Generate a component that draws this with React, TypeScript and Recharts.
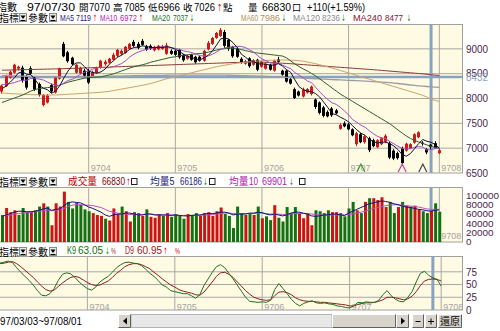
import React from 'react';
import { ComposedChart, Bar, Line, XAxis, YAxis, ReferenceLine, ReferenceDot, Cell } from 'recharts';

// trading days 97/03/03 ~ 97/08/01
const MAR = [3, 4, 5, 6, 7, 10, 11, 12, 13, 14, 17, 18, 19, 20, 21, 24, 25, 26, 27, 28, 31];
const APR = [1, 2, 3, 7, 8, 9, 10, 11, 14, 15, 16, 17, 18, 21, 22, 23, 24, 25, 28, 29, 30];
const MAY = [2, 5, 6, 7, 8, 9, 12, 13, 14, 15, 16, 19, 20, 21, 22, 23, 26, 27, 28, 29, 30];
const JUN = [2, 3, 4, 5, 6, 9, 10, 11, 12, 13, 16, 17, 18, 19, 20, 23, 24, 25, 26, 27, 30];
const JUL = [1, 2, 3, 4, 7, 8, 9, 10, 11, 14, 15, 16, 17, 18, 21, 22, 23, 24, 25, 29, 30, 31];
const AUG = [1];

const OPEN = [8140, 8250, 8420, 8520, 8600, 8620, 8450, 8610, 8420, 8290,
  7870, 7920, 8270, 8120, 8400, 9100, 8930, 8820, 8520, 8510,
  8560, 8560, 8450, 8520, 8620, 8690, 8720, 8780, 8860, 8900,
  8920, 9000, 9140, 9100, 9160, 9050, 9060, 8970, 8990, 9000,
  8900, 8960, 8960, 8980, 8880, 8800, 8880, 8840, 8840, 8760,
  8990, 9100, 9220, 9260, 9340, 9180, 9040, 9000, 8800, 8700,
  8810, 8680, 8780, 8640, 8600, 8680, 8560, 8790, 8560, 8560,
  8390, 8190, 8140, 8040, 8120, 8090, 7980, 7920, 7820, 7730,
  7800, 7760, 7390, 7500, 7480, 7380, 7080, 7280, 7120, 7200,
  7160, 7020, 7080, 7130, 7100, 6950, 6900, 7000, 6950, 7000,
  7110, 7220, 7110, 6980, 7070, 7100, 6900];
const HIGH = [8280, 8480, 8560, 8700, 8660, 8660, 8480, 8650, 8450, 8320,
  8090, 8090, 8300, 8450, 8620, 9140, 8960, 8840, 8700, 8640,
  8600, 8600, 8560, 8640, 8780, 8780, 8820, 8920, 9000, 8990,
  9060, 9120, 9180, 9140, 9200, 9080, 9090, 9060, 9080, 9080,
  9120, 8990, 8980, 9000, 8900, 8880, 8900, 8860, 8860, 8980,
  9160, 9240, 9340, 9420, 9380, 9200, 9060, 9030, 8830, 8780,
  8830, 8790, 8800, 8760, 8720, 8700, 8780, 8840, 8580, 8580,
  8420, 8220, 8160, 8220, 8210, 8260, 8000, 7940, 7850, 7760,
  7830, 7790, 7500, 7540, 7510, 7400, 7330, 7310, 7260, 7230,
  7190, 7180, 7220, 7280, 7140, 6980, 6930, 7030, 7110, 7100,
  7300, 7340, 7140, 7000, 7085, 7140, 6990];
const LOW = [8100, 8230, 8400, 8500, 8560, 8320, 8180, 8480, 8150, 8040,
  7840, 7900, 8110, 8100, 8380, 8830, 8720, 8670, 8500, 8480,
  8430, 8290, 8420, 8500, 8600, 8660, 8700, 8760, 8830, 8870,
  8900, 8980, 9040, 8990, 9060, 8960, 8980, 8950, 8970, 8980,
  8880, 8880, 8860, 8800, 8740, 8780, 8760, 8700, 8740, 8740,
  8970, 9080, 9200, 9240, 9020, 8960, 8820, 8820, 8700, 8680,
  8620, 8660, 8550, 8620, 8580, 8560, 8540, 8720, 8460, 8320,
  8280, 7990, 8040, 8020, 8100, 8060, 7790, 7680, 7620, 7620,
  7630, 7680, 7370, 7420, 7360, 7240, 7040, 7100, 7090, 6920,
  7020, 7000, 7060, 7100, 6780, 6760, 6770, 6650, 6930, 6980,
  7090, 7200, 7050, 6880, 6966, 6990, 6880];
const CLOSE = [8260, 8460, 8540, 8680, 8640, 8360, 8220, 8500, 8180, 8070,
  8070, 8060, 8140, 8420, 8610, 8850, 8750, 8690, 8680, 8620,
  8460, 8320, 8530, 8620, 8760, 8740, 8800, 8880, 8980, 8960,
  9040, 9100, 9060, 9020, 9080, 8980, 9000, 9040, 9060, 9050,
  9070, 8900, 8880, 8830, 8770, 8860, 8780, 8730, 8760, 8960,
  9120, 9220, 9320, 9380, 9060, 9000, 8850, 8840, 8720, 8750,
  8650, 8770, 8580, 8740, 8700, 8580, 8760, 8740, 8480, 8340,
  8300, 8010, 8060, 8180, 8190, 8240, 7830, 7710, 7650, 7640,
  7660, 7700, 7470, 7440, 7380, 7260, 7300, 7120, 7240, 6960,
  7040, 7160, 7200, 7250, 6810, 6790, 6800, 6700, 7090, 7080,
  7280, 7320, 7100, 6916, 7026, 7000, 6960];
const PREV_CLOSE = 8300;

const MA5 = [8200, 8250, 8330, 8418, 8516, 8536, 8488, 8480, 8380, 8266,
  8208, 8176, 8104, 8152, 8260, 8416, 8554, 8664, 8716, 8718,
  8640, 8554, 8522, 8510, 8538, 8594, 8690, 8760, 8832, 8872,
  8932, 8992, 9028, 9036, 9060, 9048, 9028, 9024, 9032, 9026,
  9044, 9024, 8992, 8946, 8890, 8848, 8824, 8794, 8780, 8818,
  8870, 8958, 9076, 9200, 9220, 9196, 9122, 9026, 8894, 8832,
  8762, 8746, 8694, 8698, 8688, 8674, 8672, 8704, 8652, 8580,
  8524, 8374, 8238, 8178, 8148, 8136, 8100, 8030, 7924, 7814,
  7698, 7672, 7624, 7582, 7530, 7450, 7370, 7300, 7260, 7176,
  7132, 7104, 7120, 7122, 7092, 7042, 6970, 6870, 6838, 6892,
  6990, 7094, 7174, 7139, 7119, 7072, 7000];
const MA10 = [8280, 8290, 8300, 8320, 8350, 8368, 8369, 8405, 8400, 8391,
  8372, 8332, 8292, 8266, 8263, 8312, 8365, 8384, 8434, 8489,
  8528, 8554, 8593, 8613, 8628, 8617, 8622, 8641, 8671, 8705,
  8763, 8841, 8894, 8934, 8966, 8990, 9010, 9026, 9034, 9043,
  9046, 9026, 9008, 8989, 8958, 8946, 8924, 8893, 8863, 8854,
  8859, 8891, 8935, 8990, 9019, 9033, 9040, 9051, 9047, 9026,
  8979, 8934, 8860, 8796, 8760, 8718, 8709, 8699, 8675, 8634,
  8599, 8523, 8471, 8415, 8354, 8320, 8227, 8132, 8052, 7977,
  7913, 7882, 7823, 7749, 7672, 7574, 7521, 7462, 7421, 7353,
  7291, 7237, 7210, 7191, 7134, 7087, 7037, 6995, 6980, 6992,
  7016, 7032, 7022, 6960, 6972, 6990, 7000];
const MA20 = [7920, 7950, 7980, 8010, 8040, 8070, 8110, 8150, 8180, 8200,
  8210, 8220, 8225, 8240, 8270, 8300, 8330, 8350, 8370, 8390,
  8410, 8420, 8425, 8430, 8435, 8455, 8475, 8495, 8525, 8555,
  8585, 8615, 8640, 8660, 8680, 8700, 8730, 8750, 8770, 8790,
  8810, 8830, 8840, 8860, 8870, 8880, 8890, 8900, 8905, 8915,
  8935, 8955, 8975, 8995, 9005, 9015, 9015, 9005, 8985, 8965,
  8945, 8925, 8915, 8905, 8895, 8885, 8875, 8865, 8855, 8815,
  8755, 8695, 8645, 8595, 8555, 8505, 8455, 8395, 8335, 8275,
  8210, 8150, 8090, 8040, 7990, 7940, 7890, 7840, 7790, 7740,
  7690, 7640, 7590, 7540, 7490, 7430, 7365, 7305, 7245, 7195,
  7155, 7125, 7095, 7065, 7037, 7015, 6995];
const MA60 = [8110, 8105, 8100, 8095, 8090, 8085, 8080, 8078, 8075, 8073,
  8072, 8071, 8070, 8072, 8075, 8080, 8085, 8090, 8095, 8100,
  8105, 8110, 8115, 8120, 8125, 8135, 8145, 8160, 8175, 8190,
  8205, 8220, 8235, 8250, 8265, 8282, 8302, 8324, 8350, 8375,
  8400, 8420, 8440, 8460, 8480, 8500, 8520, 8540, 8560, 8580,
  8600, 8620, 8640, 8655, 8670, 8685, 8700, 8710, 8720, 8730,
  8740, 8748, 8755, 8760, 8765, 8770, 8772, 8775, 8775, 8775,
  8772, 8768, 8762, 8750, 8735, 8718, 8700, 8680, 8658, 8635,
  8612, 8588, 8564, 8540, 8515, 8490, 8465, 8440, 8415, 8390,
  8365, 8340, 8315, 8290, 8265, 8240, 8215, 8190, 8165, 8140,
  8115, 8090, 8062, 8030, 7986, 7962, 7940];
const MA120 = [8462, 8460, 8458, 8455, 8452, 8450, 8448, 8446, 8444, 8442,
  8440, 8438, 8436, 8434, 8433, 8432, 8432, 8433, 8434, 8435,
  8436, 8437, 8438, 8440, 8442, 8444, 8446, 8448, 8450, 8452,
  8454, 8456, 8458, 8460, 8462, 8463, 8464, 8465, 8466, 8467,
  8468, 8469, 8470, 8470, 8471, 8471, 8472, 8472, 8472, 8472,
  8472, 8472, 8471, 8470, 8469, 8468, 8466, 8464, 8462, 8460,
  8457, 8454, 8451, 8448, 8445, 8442, 8438, 8434, 8430, 8426,
  8422, 8418, 8414, 8410, 8406, 8402, 8398, 8394, 8390, 8386,
  8382, 8378, 8374, 8370, 8366, 8362, 8358, 8354, 8350, 8345,
  8340, 8335, 8330, 8325, 8318, 8310, 8302, 8292, 8282, 8272,
  8264, 8256, 8249, 8242, 8236, 8230, 8224];
const MA240 = [8570, 8572, 8574, 8576, 8578, 8580, 8582, 8584, 8586, 8588,
  8590, 8592, 8594, 8596, 8598, 8600, 8603, 8606, 8609, 8612,
  8615, 8618, 8621, 8624, 8627, 8630, 8633, 8636, 8639, 8642,
  8645, 8648, 8651, 8654, 8657, 8660, 8663, 8666, 8669, 8672,
  8675, 8678, 8681, 8684, 8687, 8690, 8693, 8696, 8699, 8702,
  8705, 8708, 8711, 8714, 8717, 8720, 8723, 8726, 8729, 8732,
  8735, 8736, 8735, 8732, 8728, 8724, 8720, 8715, 8710, 8705,
  8700, 8694, 8688, 8682, 8676, 8670, 8664, 8658, 8652, 8646,
  8640, 8634, 8628, 8622, 8616, 8610, 8604, 8598, 8592, 8586,
  8580, 8573, 8566, 8559, 8552, 8545, 8538, 8531, 8524, 8517,
  8510, 8503, 8496, 8487, 8477, 8470, 8463];

const VOL = [58000, 73000, 64000, 68000, 58000, 73000, 64000, 64000, 68000, 76000,
  83000, 76000, 36000, 83000, 76000, 108000, 86000, 72000, 84000, 80000,
  70000, 66000, 62000, 58000, 56000, 50000, 46000, 72000, 60000, 76000,
  66000, 44000, 64000, 62000, 56000, 70000, 54000, 52000, 60000, 56000,
  62000, 54000, 60000, 56000, 50000, 60000, 58000, 62000, 56000, 62000,
  64000, 56000, 66000, 74000, 60000, 56000, 30000, 76000, 62000, 58000,
  60000, 58000, 76000, 51000, 55000, 47000, 79000, 52000, 44000, 75000,
  62000, 75000, 62000, 51000, 62000, 36000, 68000, 66000, 62000, 68000,
  64000, 64000, 62000, 55000, 72000, 86000, 68000, 62000, 86000, 94000,
  94000, 90000, 96000, 75000, 86000, 62000, 75000, 86000, 78000, 76000,
  78000, 70000, 66000, 62000, 66830, 83000, 65000];
const VMA5 = [55000, 58000, 61000, 64000, 66000, 66000, 65000, 65000, 66000, 68000,
  71000, 73000, 68000, 70000, 71000, 78000, 84000, 86000, 85000, 84000,
  80000, 75000, 72000, 68000, 64000, 58000, 55000, 58000, 60000, 60000,
  62000, 62000, 60000, 58000, 58000, 60000, 60000, 58000, 58000, 58000,
  58000, 57000, 58000, 57000, 56000, 56000, 57000, 58000, 58000, 60000,
  61000, 61000, 62000, 64000, 64000, 62000, 58000, 60000, 60000, 60000,
  62000, 62000, 64000, 63000, 60000, 58000, 60000, 58000, 56000, 58000,
  62000, 64000, 64000, 62000, 60000, 56000, 55000, 56000, 58000, 58000,
  60000, 60000, 58000, 57000, 62000, 66000, 70000, 74000, 78000, 82000,
  84000, 86000, 88000, 87000, 85000, 82000, 80000, 77000, 75000, 74000,
  72000, 70000, 69000, 67000, 66186, 68000, 69000];
const VMA10 = [56000, 57000, 58000, 60000, 61000, 62000, 63000, 64000, 65000, 66000,
  67000, 68000, 67000, 68000, 70000, 72000, 76000, 79000, 80000, 80000,
  79000, 79000, 78000, 76000, 74000, 70000, 66000, 64000, 62000, 61000,
  60000, 59000, 59000, 59000, 59000, 60000, 60000, 59000, 58000, 58000,
  58000, 58000, 58000, 57000, 57000, 57000, 57000, 57000, 57000, 58000,
  58000, 59000, 60000, 61000, 62000, 62000, 61000, 61000, 61000, 61000,
  61000, 61000, 62000, 62000, 61000, 60000, 60000, 60000, 59000, 59000,
  60000, 61000, 61000, 61000, 61000, 60000, 59000, 58000, 58000, 58000,
  58000, 58000, 58000, 58000, 59000, 60000, 62000, 64000, 66000, 69000,
  72000, 74000, 76000, 78000, 79000, 80000, 80000, 79000, 78000, 77000,
  76000, 75000, 73000, 71000, 69901, 70000, 70000];

const K9 = [92, 94, 96, 93, 83, 74, 66, 58, 49, 38,
  29, 28, 32, 42, 58, 70, 73, 71, 64, 55,
  48, 42, 39, 45, 55, 61, 66, 74, 83, 89,
  93, 94, 92, 91, 87, 80, 72, 66, 58, 49,
  45, 38, 36, 34, 32, 32, 28, 23, 30, 48,
  61, 74, 85, 89, 83, 72, 61, 49, 37, 25,
  17, 16, 15, 16, 15, 19, 40, 52, 42, 32,
  21, 13, 8, 13, 16, 18, 14, 13, 14, 12,
  11, 8, 7, 5, 4, 8, 15, 14, 16, 15,
  15, 19, 30, 38, 28, 21, 17, 16, 25, 36,
  55, 72, 76, 68, 63.05, 60, 47];
const D9 = [91, 92, 94, 95, 91, 85, 78, 71, 64, 55,
  47, 40, 37, 39, 46, 53, 59, 64, 66, 64,
  59, 54, 50, 48, 49, 53, 57, 64, 72, 78,
  85, 89, 91, 91, 89, 85, 81, 74, 68, 61,
  55, 49, 45, 40, 37, 35, 33, 30, 29, 35,
  45, 55, 66, 73, 74, 70, 64, 55, 47, 38,
  31, 25, 22, 20, 19, 20, 28, 35, 36, 34,
  30, 24, 20, 18, 17, 17, 16, 15, 15, 14,
  13, 12, 11, 10, 8, 8, 11, 13, 14, 14,
  15, 17, 20, 25, 25, 24, 22, 20, 22, 27,
  36, 48, 57, 60, 60.95, 60, 57];

const PRICE_TICKS = [6500, 7000, 7500, 8000, 8500, 9000, 8432];
const PRICE_GRID = [7000, 7500, 8000, 8500, 9000];
const VOL_TICKS = [0, 20000, 40000, 60000, 80000, 100000];
const KD_TICKS = [0, 25, 50, 75];
const KD_GRID = [25, 50, 75];
const MONTH_START: [string, string][] = [['97/04/01', '9704'], ['97/05/02', '9705'], ['97/06/02', '9706'], ['97/07/01', '9707'], ['97/08/01', '9708']];
const CURSOR_DAY = '97/07/30';
const CURSOR_PRICE = 8432;
const SIGNALS: [string, string][] = [['97/07/04', '#3C9A3C'], ['97/07/18', '#C040A8'], ['97/07/25', '#404058']];

const pad2 = (n: number) => (n < 10 ? '0' + n : String(n));
const MONTHS: [number, number[]][] = [[3, MAR], [4, APR], [5, MAY], [6, JUN], [7, JUL], [8, AUG]];
const DATES = MONTHS.flatMap(([m, ds]) => ds.map((d) => `97/${pad2(m)}/${pad2(d)}`));

const rows = DATES.map((d, i) => ({
  d,
  hl: [LOW[i], HIGH[i]],
  o: OPEN[i], h: HIGH[i], l: LOW[i], c: CLOSE[i],
  ma5: MA5[i], ma10: MA10[i], ma20: MA20[i], ma60: MA60[i], ma120: MA120[i], ma240: MA240[i],
  vol: VOL[i], vma5: VMA5[i], vma10: VMA10[i], k: K9[i], dd: D9[i],
  up: CLOSE[i] >= (i === 0 ? PREV_CLOSE : CLOSE[i - 1]),
}));
const DATA: any[] = [...rows, ...['p1', 'p2', 'p3', 'p4', 'p5'].map((d) => ({ d }))];

const CJK = '"Noto Sans CJK TC", "Noto Sans CJK SC", sans-serif';
const LAT = '"Liberation Sans", Arial, sans-serif';
const ARR = '"DejaVu Sans", sans-serif';
const CREAM = '#FFFAE2';
const FRAME = '#A0A0A0';
const GRID = '#A8A8A8';
const CURSOR = '#88A3C2';
const AXIS_TXT = '#4A1E4A';
const RED = '#E00000';
const GREEN = '#008000';

const Candle = (props: any) => {
  const { x, y, width, height, payload } = props;
  if (!payload || payload.h == null) return null;
  const { o, h, l, c } = payload;
  const top = Math.min(y, y + height);
  const span = Math.abs(height);
  const k = span / (h - l || 1);
  const py = (v: number) => top + (h - v) * k;
  const cx = Math.floor(x + width / 2);
  const color = c >= o ? '#D01818' : '#000000';
  const bTop = py(Math.max(o, c));
  const bBot = py(Math.min(o, c));
  return (
    <g>
      <line x1={cx + 0.5} x2={cx + 0.5} y1={top} y2={top + span} stroke={color} />
      <rect x={cx - 1} y={bTop} width={3} height={Math.max(1, bBot - bTop)} fill={color} />
    </g>
  );
};

const axisTick = (size: number) => (p: any) => {
  const v = p.payload.value as number;
  const s = String(v);
  return (
    <text x={466} y={p.y} dy={size * 0.36} fontSize={size} fontFamily={LAT}
      fill={v === CURSOR_PRICE ? '#8EA4BE' : AXIS_TXT} textLength={s.length * 5.5} lengthAdjust="spacingAndGlyphs">{s}</text>
  );
};

const monthLabel = (t: string, padBottom: number) => (p: any) => {
  const vb = p.viewBox || {};
  return (
    <text x={vb.x + 2} y={vb.y + vb.height - padBottom} fontSize={9.5} fontFamily={LAT} fill="#A4A4A4"
      textLength={20} lengthAdjust="spacingAndGlyphs">{t}</text>
  );
};

const marker = (color: string) => (p: any) => (
  <polyline points={`${p.cx - 4},${p.cy + 2} ${p.cx},${p.cy - 6} ${p.cx + 4},${p.cy + 2}`} fill="none" stroke={color} strokeWidth={1.2} />
);

function T({ x, y, w, c = '#000', s = 10.5, f = LAT, children }: any) {
  return (
    <text x={x} y={y} fill={c} fontSize={s} fontFamily={f} textLength={w} lengthAdjust={w ? 'spacingAndGlyphs' : undefined}>{children}</text>
  );
}

function DropBtn({ x, y }: { x: number; y: number }) {
  return (
    <g>
      <rect x={x + 0.5} y={y + 0.5} width={7} height={8} fill="#ECE9E0" stroke="#8A8A8A" />
      <path d={`M${x + 1.5} ${y + 2.5}h5l-2.5 3.5z`} fill="#000" />
      <line x1={x + 1.5} x2={x + 6.5} y1={y + 7.5} y2={y + 7.5} stroke="#000" />
    </g>
  );
}

function Btn({ x, y, w, h, children }: any) {
  return (
    <g>
      <rect x={x} y={y} width={w} height={h} fill="#D8D4CC" />
      <path d={`M${x + 0.5} ${y + h - 0.5}V${y + 0.5}H${x + w - 0.5}`} stroke="#FFFFFF" fill="none" />
      <path d={`M${x + 0.5} ${y + h - 0.5}H${x + w - 0.5}V${y + 0.5}`} stroke="#606060" fill="none" />
      {children}
    </g>
  );
}

function PanelHead({ y }: { y: number }) {
  return (
    <g>
      <T x={-1} y={y + 8.5} f={CJK} s={10}>指標</T>
      <DropBtn x={19} y={y} />
      <T x={28} y={y + 8.5} f={CJK} s={10}>參數</T>
      <DropBtn x={49} y={y} />
    </g>
  );
}

function Overlay() {
  const r1 = 10.5;
  const r2 = 21;
  const vh = 184.5;
  const kh = 254;
  return (
    <svg width={500} height={331} style={{ position: 'absolute', left: 0, top: 0, pointerEvents: 'none' }}>
      {/* quote line */}
      <T x={-3} y={r1 + 0.5} f={CJK} s={10}>指數</T>
      <T x={27} y={r1} w={48}>97/07/30</T>
      <T x={79} y={r1 + 0.5} f={CJK} s={9.5}>開</T>
      <T x={89} y={r1} w={21}>7070</T>
      <T x={113} y={r1 + 0.5} f={CJK} s={9.5}>高</T>
      <T x={124} y={r1} w={21}>7085</T>
      <T x={148} y={r1 + 0.5} f={CJK} s={9.5}>低</T>
      <T x={158} y={r1} w={22}>6966</T>
      <T x={183} y={r1 + 0.5} f={CJK} s={9.5}>收</T>
      <T x={194} y={r1} w={21}>7026</T>
      <T x={217} y={r1} w={5} c={RED} f={ARR} s={10}>↑</T>
      <T x={223} y={r1 + 0.5} f={CJK} s={9.5}>點</T>
      <T x={248} y={r1 + 0.5} f={CJK} s={9.5}>量</T>
      <T x={262} y={r1} w={29}>66830</T>
      <T x={292} y={r1 + 0.5} f={CJK} s={9}>口</T>
      <T x={307} y={r1} w={58}>+110(+1.59%)</T>

      {/* MA legend */}
      <PanelHead y={13} />
      <T x={60} y={r2} w={14} s={9} c="#1A1A80">MA5</T>
      <T x={76} y={r2} w={15} s={9} c="#1A1A80">7119</T>
      <T x={93} y={r2} w={4} s={9} f={ARR} c={RED}>↑</T>
      <T x={100} y={r2} w={17} s={9} c="#B020B0">MA10</T>
      <T x={120} y={r2} w={17} s={9} c="#B020B0">6972</T>
      <T x={139} y={r2} w={4} s={9} f={ARR} c={RED}>↑</T>
      <T x={152} y={r2} w={18} s={9} c="#107010">MA20</T>
      <T x={173} y={r2} w={15} s={9} c="#107010">7037</T>
      <T x={190} y={r2} w={4} s={9} f={ARR} c={GREEN}>↓</T>
      <T x={241} y={r2} w={17} s={9} c="#B89050">MA60</T>
      <T x={260} y={r2} w={20} s={9} c="#B89050">7986</T>
      <T x={282} y={r2} w={4} s={9} f={ARR} c={GREEN}>↓</T>
      <T x={293} y={r2} w={27} s={9} c="#8A8A8A">MA120</T>
      <T x={322} y={r2} w={18} s={9} c="#8A8A8A">8236</T>
      <T x={341.5} y={r2} w={4} s={9} f={ARR} c={GREEN}>↓</T>
      <T x={353} y={r2} w={29} s={9} c="#8A1030">MA240</T>
      <T x={385} y={r2} w={18} s={9} c="#8A1030">8477</T>
      <T x={407} y={r2} w={4} s={9} f={ARR} c={GREEN}>↓</T>

      {/* volume legend */}
      <PanelHead y={177} />
      <T x={68} y={vh} f={CJK} s={9.7} c="#C00000">成交量</T>
      <T x={102} y={vh} w={23} s={10} c="#800000">66830</T>
      <T x={126.5} y={vh} w={4} s={9} f={ARR} c={RED}>↑</T>
      <rect x={131.5} y={178.5} width={5.5} height={6} fill="none" stroke="#202020" />
      <T x={150} y={vh} f={CJK} s={9.7} c="#1A1A80">均量</T>
      <T x={169.5} y={vh} w={5} s={10} c="#1A1A80">5</T>
      <T x={180} y={vh} w={22} s={10} c="#1A1A80">66186</T>
      <T x={203.5} y={vh} w={4} s={9} f={ARR} c={GREEN}>↓</T>
      <rect x={209.5} y={178.5} width={5.5} height={6} fill="none" stroke="#202020" />
      <T x={229} y={vh} f={CJK} s={9.7} c="#B020B0">均量</T>
      <T x={249} y={vh} w={9} s={10} c="#B020B0">10</T>
      <T x={262} y={vh} w={25} s={10} c="#B020B0">69901</T>
      <T x={289.5} y={vh} w={4} s={9} f={ARR} c={GREEN}>↓</T>
      <rect x={299.5} y={178.5} width={5.5} height={6} fill="none" stroke="#202020" />

      {/* KD legend */}
      <PanelHead y={247} />
      <T x={67} y={kh} w={9} s={10} c="#107010">K9</T>
      <T x={78} y={kh} w={25} s={10} c="#107010">63.05</T>
      <T x={105.5} y={kh} w={4} s={9} f={ARR} c={GREEN}>↓</T>
      <T x={111} y={kh} w={5} s={9} c="#A03030">%</T>
      <T x={125} y={kh} w={9} s={10} c="#A01818">D9</T>
      <T x={137} y={kh} w={25} s={10} c="#A01818">60.95</T>
      <T x={163.5} y={kh} w={4} s={9} f={ARR} c={RED}>↑</T>
      <T x={175} y={kh} w={5} s={9} c={RED}>%</T>

      {/* bottom bar */}
      <T x={0} y={324.5} w={82}>97/03/03~97/08/01</T>
      <rect x={131} y={314.5} width={201} height={13} fill="#E8E8E8" stroke="#B4B4B4" />
      <Btn x={118} y={314} w={13} h={14}>
        <path d="M127 317.5v7l-4-3.5z" fill="#000" />
      </Btn>
      <Btn x={332} y={314} w={64} h={14} />
      <Btn x={396} y={314} w={13} h={14}>
        <path d="M401 317.5v7l4-3.5z" fill="#000" />
      </Btn>
      <Btn x={412} y={314} w={12} h={14}>
        <line x1={415.5} x2={420.5} y1={321.5} y2={321.5} stroke="#000" />
      </Btn>
      <Btn x={425} y={314} w={12} h={14}>
        <line x1={428} x2={434} y1={321.5} y2={321.5} stroke="#000" />
        <line x1={431} x2={431} y1={318.5} y2={324.5} stroke="#000" />
      </Btn>
      <Btn x={438} y={314} w={24} h={14}>
        <T x={440} y={325} f={CJK} s={10}>還原</T>
      </Btn>
    </svg>
  );
}

function Backdrop() {
  return (
    <svg width={500} height={331} style={{ position: 'absolute', left: 0, top: 0 }}>
      <rect x={0} y={0} width={500} height={331} fill="#FFFFFF" />
      <rect x={-1} y={24.5} width={463.5} height={148.5} fill={CREAM} stroke={FRAME} />
      <rect x={-1} y={187.5} width={463.5} height={54.5} fill={CREAM} stroke={FRAME} />
      <rect x={-1} y={256.5} width={463.5} height={53.5} fill={CREAM} stroke={FRAME} />
    </svg>
  );
}

const lineProps = { dot: false, isAnimationActive: false, strokeWidth: 1, activeDot: false } as const;
const under: any = { zIndex: 250 };

function PriceChart() {
  return (
    <ComposedChart width={500} height={180} data={DATA} margin={{ top: 24, right: 0, bottom: 7, left: 0 }}>
      <XAxis dataKey="d" hide />
      <YAxis orientation="right" width={38} domain={[6500, 9500]} ticks={PRICE_TICKS} interval={0}
        tick={axisTick(10.5)} tickLine={false} axisLine={false} tickSize={0} tickMargin={0} allowDataOverflow />
      {PRICE_GRID.map((v) => <ReferenceLine key={v} y={v} stroke={GRID} {...under} />)}
      {MONTH_START.map(([d, t]) => <ReferenceLine key={d} x={d} stroke={GRID} label={monthLabel(t, 2)} {...under} />)}
      <ReferenceLine y={CURSOR_PRICE} stroke={CURSOR} strokeWidth={2.5} {...under} />
      <ReferenceLine x={CURSOR_DAY} stroke={CURSOR} strokeWidth={3} {...under} />
      <Bar dataKey="hl" shape={Candle} isAnimationActive={false} />
      <Line dataKey="ma240" stroke="#8A3A3A" {...lineProps} />
      <Line dataKey="ma120" stroke="#9C9CA8" {...lineProps} strokeWidth={1.3} />
      <Line dataKey="ma60" stroke="#C8A468" {...lineProps} />
      <Line dataKey="ma20" stroke="#2F5F2F" {...lineProps} />
      <Line dataKey="ma10" stroke="#A050C8" {...lineProps} />
      <Line dataKey="ma5" stroke="#101040" {...lineProps} />
      {SIGNALS.map(([d, col]) => <ReferenceDot key={d} x={d} y={6560} r={0} shape={marker(col)} />)}
    </ComposedChart>
  );
}

function VolumeChart() {
  return (
    <ComposedChart width={500} height={70} data={DATA} margin={{ top: 7, right: 0, bottom: 8, left: 0 }}>
      <XAxis dataKey="d" hide />
      <YAxis orientation="right" width={38} domain={[0, 118000]} ticks={VOL_TICKS} interval={0}
        tick={axisTick(9.5)} tickLine={false} axisLine={false} tickSize={0} tickMargin={0} allowDataOverflow />
      {MONTH_START.map(([d, t]) => (
        <ReferenceLine key={d} x={d} stroke={GRID} label={t === '9708' ? monthLabel(t, 3) : undefined} {...under} />
      ))}
      <ReferenceLine x={CURSOR_DAY} stroke={CURSOR} strokeWidth={3} {...under} />
      <Bar dataKey="vol" barSize={3} isAnimationActive={false}>
        {DATA.map((r, i) => <Cell key={i} fill={r.up ? '#CC1414' : '#147014'} />)}
      </Bar>
      <Line dataKey="vma10" stroke="#C050C0" {...lineProps} />
      <Line dataKey="vma5" stroke="#101080" {...lineProps} />
    </ComposedChart>
  );
}

function KdChart() {
  return (
    <ComposedChart width={500} height={66} data={DATA} margin={{ top: 6, right: 0, bottom: 6, left: 0 }}>
      <XAxis dataKey="d" hide />
      <YAxis orientation="right" width={38} domain={[0, 106]} ticks={KD_TICKS} interval={0}
        tick={axisTick(10.5)} tickLine={false} axisLine={false} tickSize={0} tickMargin={0} allowDataOverflow />
      {KD_GRID.map((v) => <ReferenceLine key={v} y={v} stroke={GRID} {...under} />)}
      {MONTH_START.map(([d, t]) => <ReferenceLine key={d} x={d} stroke={GRID} label={monthLabel(t, 0.5)} {...under} />)}
      <ReferenceLine x={CURSOR_DAY} stroke={CURSOR} strokeWidth={3} {...under} />
      <Line dataKey="dd" stroke="#8B2020" {...lineProps} />
      <Line dataKey="k" stroke="#1F6F1F" {...lineProps} />
    </ComposedChart>
  );
}

export default function App() {
  return (
    <div style={{ position: 'absolute', left: 0, top: 0, width: 500, height: 331, overflow: 'hidden', background: '#fff' }}>
      <Backdrop />
      <div style={{ position: 'absolute', left: 0, top: 0 }}><PriceChart /></div>
      <div style={{ position: 'absolute', left: 0, top: 180 }}><VolumeChart /></div>
      <div style={{ position: 'absolute', left: 0, top: 250 }}><KdChart /></div>
      <Overlay />
    </div>
  );
}
